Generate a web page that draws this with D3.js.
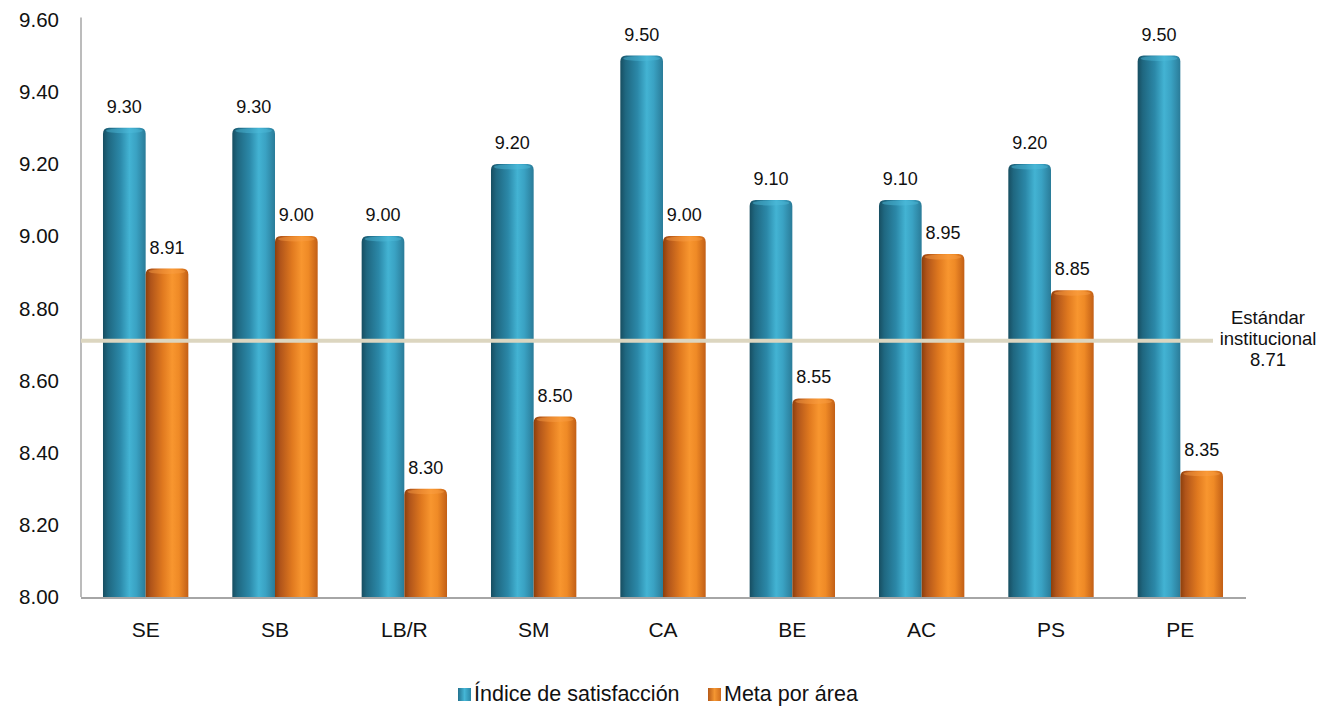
<!DOCTYPE html>
<html>
<head>
<meta charset="utf-8">
<script src="https://cdn.jsdelivr.net/npm/d3@7"></script>
<style>
  html, body { margin: 0; padding: 0; background: #fff; }
  svg { display: block; font-family: "Liberation Sans", Arial, sans-serif; }
</style>
</head>
<body>
<svg id="chart" width="1331" height="708"></svg>
<script>
const categories = ["SE", "SB", "LB/R", "SM", "CA", "BE", "AC", "PS", "PE"];
const indiceSatisfaccion = [9.30, 9.30, 9.00, 9.20, 9.50, 9.10, 9.10, 9.20, 9.50];
const metaPorArea = [8.91, 9.00, 8.30, 8.50, 9.00, 8.55, 8.95, 8.85, 8.35];
const seriesNames = ["Índice de satisfacción", "Meta por área"];
const yTicks = [8.00, 8.20, 8.40, 8.60, 8.80, 9.00, 9.20, 9.40, 9.60];
const estandar = 8.71;
const estandarLabel = ["Estándar", "institucional", "8.71"];

(function () {
const svg = d3.select("#chart");
const pLeft = 81, pRight = 1245, pTop = 19.5, pBottom = 597;

const x0 = d3.scaleBand().domain(categories).range([pLeft, pRight]).paddingInner(0.34).paddingOuter(0.17);
const x1 = d3.scaleBand().domain([0, 1]).range([0, x0.bandwidth()]).padding(0);
const y = d3.scaleLinear().domain([8.0, 9.6]).range([pBottom, pTop]);

const defs = svg.append("defs");
function grad(id, stops) {
  const g = defs.append("linearGradient").attr("id", id).attr("x1", "0%").attr("x2", "100%").attr("y1", "0%").attr("y2", "0%");
  stops.forEach(s => g.append("stop").attr("offset", s[0]).attr("stop-color", s[1]));
}
grad("gBlue", [["0%", "#174e61"], ["12%", "#1f6780"], ["40%", "#2b88a8"], ["62%", "#43b3d3"], ["78%", "#3aa2c3"], ["100%", "#2a7b98"]]);
grad("gOrange", [["0%", "#8c3f0c"], ["12%", "#b0541a"], ["40%", "#e0791f"], ["62%", "#f8962f"], ["78%", "#ef8a26"], ["100%", "#c25f16"]]);
grad("gBlueLeg", [["0%", "#23728f"], ["50%", "#45b6d6"], ["100%", "#2a86a6"]]);
grad("gOrangeLeg", [["0%", "#b65a18"], ["50%", "#f49632"], ["100%", "#d06d1c"]]);

// y axis line
svg.append("line").attr("x1", pLeft).attr("x2", pLeft).attr("y1", pTop - 2).attr("y2", pBottom)
  .attr("stroke", "#a6a6a6").attr("stroke-width", 1.5);

// y tick labels
svg.append("g").selectAll("text").data(yTicks).join("text")
  .attr("x", 59).attr("y", d => y(d)).attr("dy", "0.36em")
  .attr("text-anchor", "end").attr("font-size", 20.5).attr("fill", "#111")
  .text(d => d.toFixed(2));

function barPath(x, w, yTop, yBot) {
  const r = Math.min(6, (yBot - yTop) / 2);
  return `M${x},${yBot} L${x},${yTop + r} Q${x},${yTop} ${x + r},${yTop} L${x + w - r},${yTop} Q${x + w},${yTop} ${x + w},${yTop + r} L${x + w},${yBot} Z`;
}

const series = [indiceSatisfaccion, metaPorArea];
const fills = ["url(#gBlue)", "url(#gOrange)"];
const capFills = ["#4fbcdc", "#fba048"];

series.forEach((vals, si) => {
  const g = svg.append("g");
  const data = categories.map((c, i) => ({ c, v: vals[i] }));
  g.selectAll("path.bar").data(data).join("path").attr("class", "bar")
    .attr("d", d => barPath(x0(d.c) + x1(si), x1.bandwidth(), y(d.v), y(8.0)))
    .attr("fill", fills[si]);
  g.selectAll("ellipse").data(data).join("ellipse")
    .attr("cx", d => x0(d.c) + x1(si) + x1.bandwidth() / 2)
    .attr("cy", d => y(d.v) + 3)
    .attr("rx", x1.bandwidth() / 2 - 3).attr("ry", 2.5)
    .attr("fill", capFills[si]).attr("opacity", 0.45);
  g.selectAll("text").data(data).join("text")
    .attr("x", d => x0(d.c) + x1(si) + x1.bandwidth() / 2)
    .attr("y", d => y(d.v) - 15)
    .attr("text-anchor", "middle").attr("font-size", 18).attr("fill", "#111")
    .text(d => d.v.toFixed(2));
});

// x axis
svg.append("line").attr("x1", pLeft).attr("x2", pRight + 1).attr("y1", pBottom + 1).attr("y2", pBottom + 1)
  .attr("stroke", "#a6a6a6").attr("stroke-width", 2);
svg.append("g").selectAll("text").data(categories).join("text")
  .attr("x", d => x0(d) + x0.bandwidth() / 2).attr("y", 637)
  .attr("text-anchor", "middle").attr("font-size", 21).attr("fill", "#111")
  .text(d => d);

// standard line
svg.append("line").attr("x1", pLeft).attr("x2", 1213).attr("y1", y(estandar)).attr("y2", y(estandar))
  .attr("stroke", "#dcd6c0").attr("stroke-width", 4);
svg.append("g").selectAll("text").data(estandarLabel).join("text")
  .attr("x", 1268).attr("y", (d, i) => 324 + i * 21)
  .attr("text-anchor", "middle").attr("font-size", 18.5).attr("fill", "#111")
  .text(d => d);

// legend
const leg = svg.append("g");
const legX = [458, 708];
const legFills = ["url(#gBlueLeg)", "url(#gOrangeLeg)"];
seriesNames.forEach((n, i) => {
  leg.append("rect").attr("x", legX[i]).attr("y", 688).attr("width", 13).attr("height", 13).attr("fill", legFills[i]);
  leg.append("text").attr("x", legX[i] + 16).attr("y", 701).attr("font-size", 21.5).attr("fill", "#111")
    .text(n);
});
})();
</script>
</body>
</html>
